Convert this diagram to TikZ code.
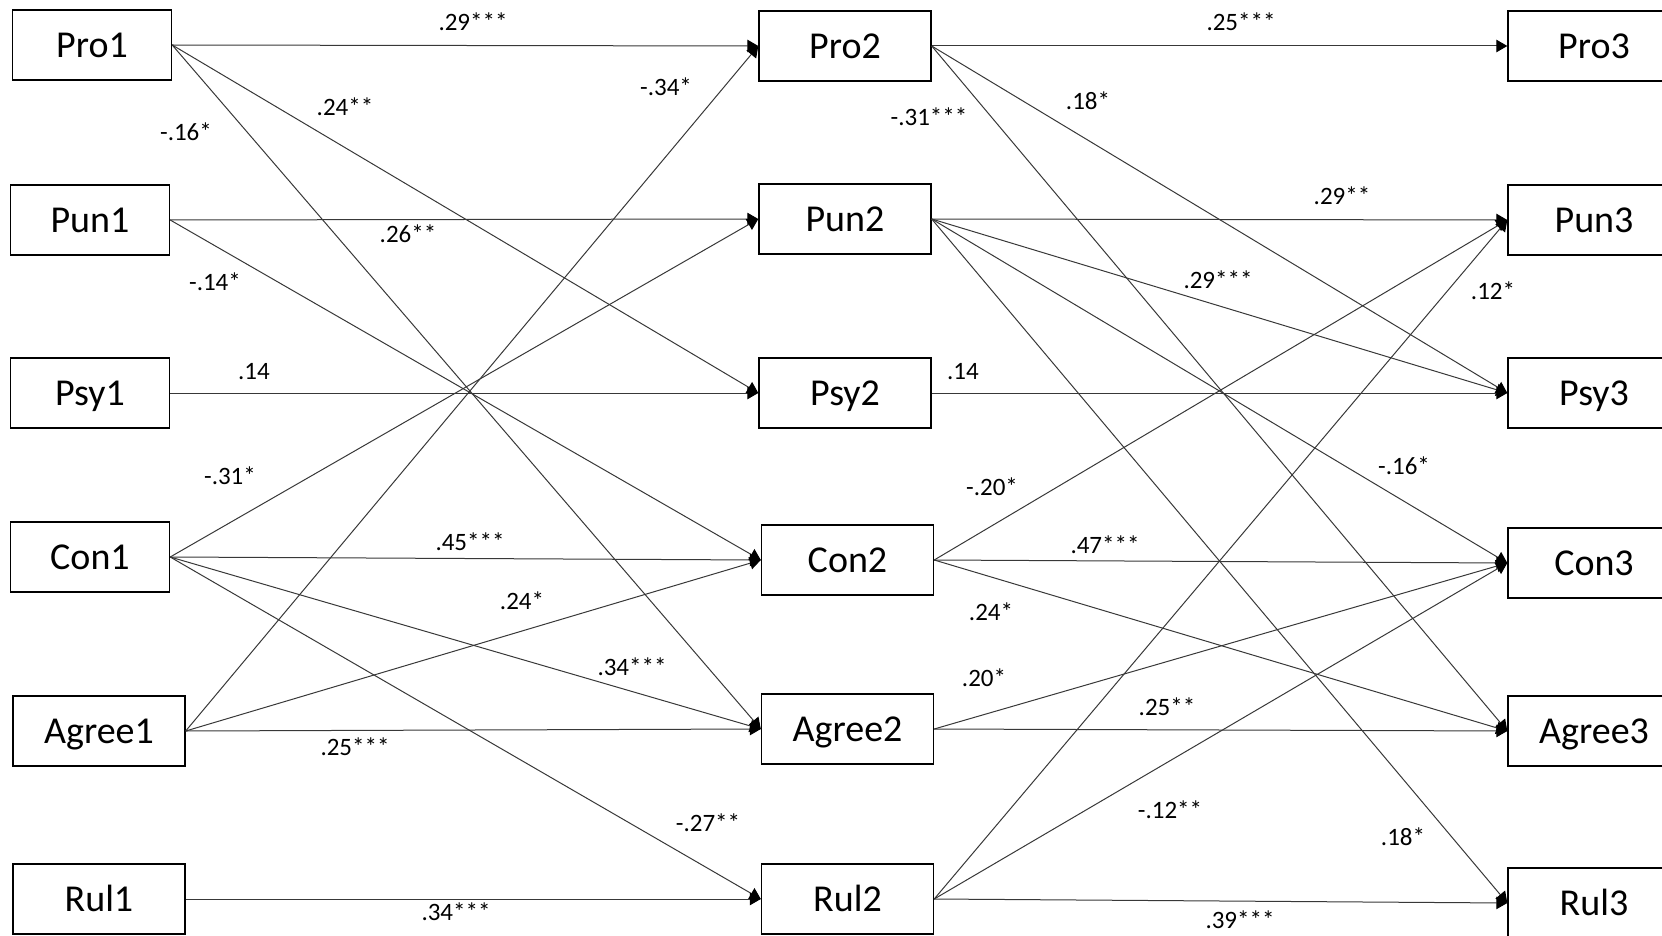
\documentclass[tikz,border=0pt]{standalone}
\usepackage{fontspec}
\setmainfont{Carlito}
\usetikzlibrary{arrows.meta}
\begin{document}
\begin{tikzpicture}[x=1pt,y=-1pt,
  var/.style={draw=black, line width=1.4pt, fill=white, minimum height=70pt,
    minimum width=172pt, inner sep=0pt, font=\fontsize{38}{40}\selectfont,
    text height=24.5pt, text depth=0pt},
  narrow/.style={minimum width=159pt},
  coef/.style={inner sep=0pt, font=\fontsize{25}{28}\selectfont,
    text height=15.8pt, text depth=0pt},
  link/.style={draw=black!78, line width=1pt,
    -{Triangle[length=11pt,width=12.5pt,color=black]}}
]
\useasboundingbox (0,0) rectangle (1662,936);
\clip (0,0) rectangle (1662,936);

% wave 1
\node[var, narrow] (pro1)   at (92,45)   {Pro1};
\node[var, narrow] (pun1)   at (90,220)  {Pun1};
\node[var, narrow] (psy1)   at (90,393)  {Psy1};
\node[var, narrow] (con1)   at (90,557)  {Con1};
\node[var]         (agree1) at (99,731)  {Agree1};
\node[var]         (rul1)   at (99,899)  {Rul1};

% wave 2
\node[var] (pro2)   at (845,46)    {Pro2};
\node[var] (pun2)   at (845,219)   {Pun2};
\node[var] (psy2)   at (845,393)   {Psy2};
\node[var] (con2)   at (847.5,560) {Con2};
\node[var] (agree2) at (847.5,729) {Agree2};
\node[var] (rul2)   at (847.5,899) {Rul2};

% wave 3
\node[var] (pro3)   at (1594,46)  {Pro3};
\node[var] (pun3)   at (1594,220) {Pun3};
\node[var] (psy3)   at (1594,393) {Psy3};
\node[var] (con3)   at (1594,563) {Con3};
\node[var] (agree3) at (1594,731) {Agree3};
\node[var] (rul3)   at (1594,903) {Rul3};

% paths wave 1 -> wave 2
\draw[link] (pro1.east) -- (pro2.west);
\draw[link] (pro1.east) -- (psy2.west);
\draw[link] (pro1.east) -- (agree2.west);
\draw[link] (pun1.east) -- (pun2.west);
\draw[link] (pun1.east) -- (con2.west);
\draw[link] (psy1.east) -- (psy2.west);
\draw[link] (con1.east) -- (pun2.west);
\draw[link] (con1.east) -- (con2.west);
\draw[link] (con1.east) -- (agree2.west);
\draw[link] (con1.east) -- (rul2.west);
\draw[link] (agree1.east) -- (pro2.west);
\draw[link] (agree1.east) -- (con2.west);
\draw[link] (agree1.east) -- (agree2.west);
\draw[link] (rul1.east) -- (rul2.west);

% paths wave 2 -> wave 3
\draw[link] (pro2.east) -- (pro3.west);
\draw[link] (pro2.east) -- (psy3.west);
\draw[link] (pro2.east) -- (agree3.west);
\draw[link] (pun2.east) -- (pun3.west);
\draw[link] (pun2.east) -- (psy3.west);
\draw[link] (pun2.east) -- (con3.west);
\draw[link] (pun2.east) -- (rul3.west);
\draw[link] (psy2.east) -- (psy3.west);
\draw[link] (con2.east) -- (pun3.west);
\draw[link] (con2.east) -- (con3.west);
\draw[link] (con2.east) -- (agree3.west);
\draw[link] (agree2.east) -- (con3.west);
\draw[link] (agree2.east) -- (agree3.west);
\draw[link] (rul2.east) -- (pun3.west);
\draw[link] (rul2.east) -- (con3.west);
\draw[link] (rul2.east) -- (rul3.west);

% coefficients wave 1 -> wave 2
\node[coef] (c1)  at (473,23)  {.29***};
\node[coef] (c2)  at (345,108) {.24**};
\node[coef] (c3)  at (186,133) {-.16*};
\node[coef] (c4)  at (408,235) {.26**};
\node[coef] (c5)  at (215,283) {-.14*};
\node[coef] (c6)  at (254,372) {.14};
\node[coef] (c7)  at (230,477) {-.31*};
\node[coef] (c8)  at (470,543) {.45***};
\node[coef] (c9)  at (522,602) {.24*};
\node[coef] (c10) at (632,668) {.34***};
\node[coef] (c11) at (355,748) {.25***};
\node[coef] (c12) at (708,824) {-.27**};
\node[coef] (c13) at (456,913) {.34***};
\node[coef] (c14) at (666,88)  {-.34*};

% coefficients wave 2 -> wave 3
\node[coef] (d1)  at (1241,23)  {.25***};
\node[coef] (d2)  at (929,118)  {-.31***};
\node[coef] (d3)  at (1088,102) {.18*};
\node[coef] (d4)  at (1342,197) {.29**};
\node[coef] (d5)  at (1218,281) {.29***};
\node[coef] (d6)  at (1493,292) {.12*};
\node[coef] (d7)  at (963,372)  {.14};
\node[coef] (d8)  at (1404,467) {-.16*};
\node[coef] (d9)  at (992,488)  {-.20*};
\node[coef] (d10) at (1105,546) {.47***};
\node[coef] (d11) at (991,613)  {.24*};
\node[coef] (d12) at (984,679)  {.20*};
\node[coef] (d13) at (1167,708) {.25**};
\node[coef] (d14) at (1170,811) {-.12**};
\node[coef] (d15) at (1403,838) {.18*};
\node[coef] (d16) at (1240,921) {.39***};
\end{tikzpicture}
\end{document}
